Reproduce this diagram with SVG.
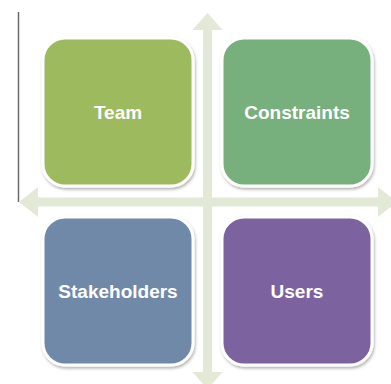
<svg xmlns="http://www.w3.org/2000/svg" width="391" height="384" viewBox="0 0 391 384">
<defs>
<style>
.box{stroke:#ffffff;stroke-width:3;filter:url(#sh)}
.lbl{font-family:"Liberation Sans",Arial,sans-serif;font-weight:bold;font-size:19px;fill:#ffffff;text-anchor:middle}
.arr{fill:#e2e9d7}
</style>
<filter id="sh" x="-10%" y="-10%" width="125%" height="125%">
<feDropShadow dx="1" dy="2" stdDeviation="1.5" flood-color="#000000" flood-opacity="0.3"/>
</filter>
</defs>
<rect width="391" height="384" fill="#ffffff"/>
<line x1="18.5" y1="12" x2="18.5" y2="202" stroke="#6a6a6a" stroke-width="1.5"/>
<g id="connectors">
<path class="arr" d="M207.5,13 L222.5,30 L212,30 L212,372 L222.5,372 L207.5,389 L192.5,372 L203,372 L203,30 L192.5,30 Z"/>
<path class="arr" d="M19,202 L38,187 L38,197.5 L378,197.5 L378,187 L397,202 L378,217 L378,206.5 L38,206.5 L38,217 Z"/>
</g>
<g id="team">
<rect class="box" x="43" y="38" width="150" height="148" rx="22" fill="#9dba5e"/>
<text class="lbl" x="118" y="119">Team</text>
</g>
<g id="constraints">
<rect class="box" x="222" y="38" width="150" height="148" rx="22" fill="#77af7d"/>
<text class="lbl" x="297" y="119">Constraints</text>
</g>
<g id="stakeholders">
<rect class="box" x="43" y="217" width="150" height="148" rx="22" fill="#6f89a9"/>
<text class="lbl" x="118" y="298">Stakeholders</text>
</g>
<g id="users">
<rect class="box" x="222" y="217" width="150" height="148" rx="22" fill="#7b63a0"/>
<text class="lbl" x="297" y="298">Users</text>
</g>
</svg>
